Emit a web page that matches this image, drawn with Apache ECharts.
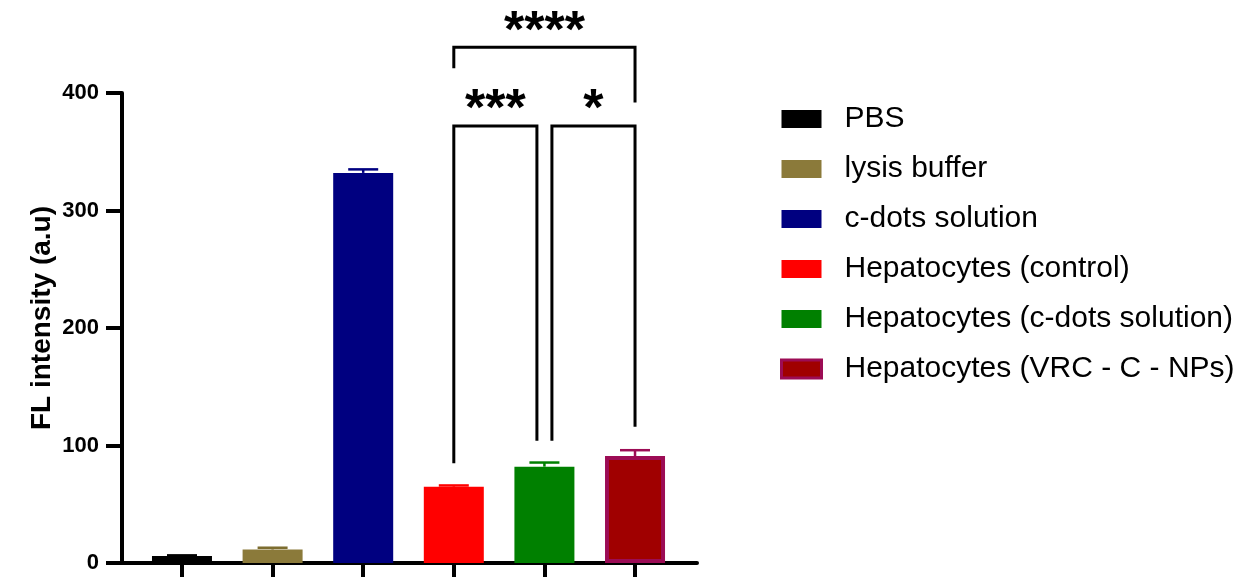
<!DOCTYPE html>
<html>
<head>
<meta charset="utf-8">
<script src="https://cdn.jsdelivr.net/npm/echarts@6/dist/echarts.min.js"></script>
<style>
html,body{margin:0;padding:0;background:#fff;}
#chart{width:1244px;height:577px;}
</style>
</head>
<body>
<div id="chart"></div>
<script>
// ---- data ----
const groups = ['PBS', 'lysis buffer', 'c-dots solution', 'Hepatocytes (control)', 'Hepatocytes (c-dots solution)', 'Hepatocytes (VRC - C - NPs)'];
const means = [6, 11.5, 332, 65, 82, 91];
const errors = [0.5, 1.5, 3, 1, 3.5, 5];
const yTicks = [0, 100, 200, 300, 400];
// significance brackets
const bracketFrom = [3, 4, 3];
const bracketTo = [4, 5, 5];
const bracketLevel = [372, 372, 439];
const bracketLeftEnd = [85, 104, 421];
const bracketRightEnd = [104, 116, 392];
const bracketLabels = ['***', '*', '****'];

// ---- styles ----
const colors = ['#000000', '#8b7a3a', '#000080', '#ff0000', '#008000', '#a00000'];
const errColors = ['#000000', '#7d6d30', '#000080', '#ff0000', '#008000', '#9c0c55'];
const borderColors = [null, null, null, null, null, '#9c0c55'];
const FONT = 'Liberation Sans, Arial, sans-serif';

const chart = echarts.init(document.getElementById('chart'), null, {renderer: 'canvas'});

const barSeries = groups.map((g, i) => ({
  name: g,
  type: 'bar',
  data: [[i, means[i]]],
  barWidth: 60,
  barGap: '-100%',
  itemStyle: borderColors[i] ? {color: colors[i], borderColor: borderColors[i], borderWidth: 4} : {color: colors[i]},
  z: 2
}));

const errorSeries = {
  type: 'custom',
  name: 'err',
  data: means.map((m, i) => [i, m, errors[i]]),
  encode: {x: 0, y: 1},
  z: 3,
  silent: true,
  renderItem: function (params, api) {
    const i = api.value(0);
    const m = api.value(1);
    const e = api.value(2);
    const p0 = api.coord([i, m]);
    const p1 = api.coord([i, m + e]);
    const c = errColors[params.dataIndex];
    const half = 15;
    return {
      type: 'group',
      children: [
        {type: 'line', shape: {x1: p0[0], y1: p0[1], x2: p1[0], y2: p1[1]}, style: {stroke: c, lineWidth: 2.5}},
        {type: 'line', shape: {x1: p1[0] - half, y1: p1[1], x2: p1[0] + half, y2: p1[1]}, style: {stroke: c, lineWidth: 2.5}}
      ]
    };
  }
};

const bracketSeries = {
  type: 'custom',
  name: 'sig',
  data: bracketFrom.map((f, k) => [f, bracketTo[k], bracketLevel[k], bracketLeftEnd[k], bracketRightEnd[k], k]),
  encode: {x: [0, 1], y: [2, 3, 4]},
  z: 4,
  silent: true,
  renderItem: function (params, api) {
    const k = params.dataIndex;
    const f = bracketFrom[k], t = bracketTo[k], lv = bracketLevel[k];
    const inset = 7.5;
    let dl = 0, dr = 0;
    for (let j = 0; j < bracketFrom.length; j++) {
      if (j === k || bracketLevel[j] !== lv) continue;
      if (bracketTo[j] === f) dl = inset;
      if (bracketFrom[j] === t) dr = -inset;
    }
    const pl = api.coord([f, lv]);
    const pr = api.coord([t, lv]);
    const yl = api.coord([f, bracketLeftEnd[k]])[1];
    const yr = api.coord([t, bracketRightEnd[k]])[1];
    const xl = pl[0] + dl, xr = pr[0] + dr, y = pl[1];
    return {
      type: 'group',
      children: [
        {type: 'polyline', shape: {points: [[xl, yl], [xl, y], [xr, y], [xr, yr]]},
          style: {stroke: '#000', lineWidth: 3, fill: null}},
        {type: 'text', x: (xl + xr) / 2, y: y - 15,
          style: {text: bracketLabels[k], fill: '#000', font: 'bold 52px ' + FONT, align: 'center', verticalAlign: 'middle'}}
      ]
    };
  }
};

const option = {
  backgroundColor: '#ffffff',
  animation: false,
  textStyle: {fontFamily: FONT},
  grid: {left: 122, top: 93, width: 575, height: 470, containLabel: false},
  xAxis: {
    type: 'value',
    min: -0.662,
    max: 5.684,
    axisLine: {show: true, onZero: false, lineStyle: {color: '#000', width: 4}},
    axisTick: {show: true, customValues: groups.map((g, i) => i), length: 14, lineStyle: {color: '#000', width: 4}},
    axisLabel: {show: false},
    splitLine: {show: false}
  },
  yAxis: {
    type: 'value',
    min: yTicks[0],
    max: yTicks[yTicks.length - 1],
    interval: 100,
    name: 'FL intensity (a.u)',
    nameLocation: 'middle',
    nameRotate: 90,
    nameGap: 66,
    nameTextStyle: {fontFamily: FONT, fontWeight: 'bold', fontSize: 28, color: '#000', padding: [0, 0, 0, 20]},
    axisLine: {show: true, onZero: false, lineStyle: {color: '#000', width: 4}},
    axisTick: {show: true, length: 16, lineStyle: {color: '#000', width: 4}},
    axisLabel: {fontFamily: FONT, fontWeight: 'bold', fontSize: 22, color: '#000', margin: 23},
    splitLine: {show: false}
  },
  legend: {
    orient: 'vertical',
    left: 780,
    top: 104,
    padding: 0,
    itemWidth: 40,
    itemHeight: 18,
    itemGap: 20,
    icon: 'rect',
    data: groups.map((g, i) => borderColors[i] ? {name: g, itemStyle: {borderColor: borderColors[i], borderWidth: 3}} : {name: g}),
    textStyle: {fontFamily: FONT, fontSize: 30, lineHeight: 29, color: '#000', padding: [0, 0, 0, 18]}
  },
  series: barSeries.concat([errorSeries, bracketSeries])
};
chart.setOption(option);
</script>
</body>
</html>
